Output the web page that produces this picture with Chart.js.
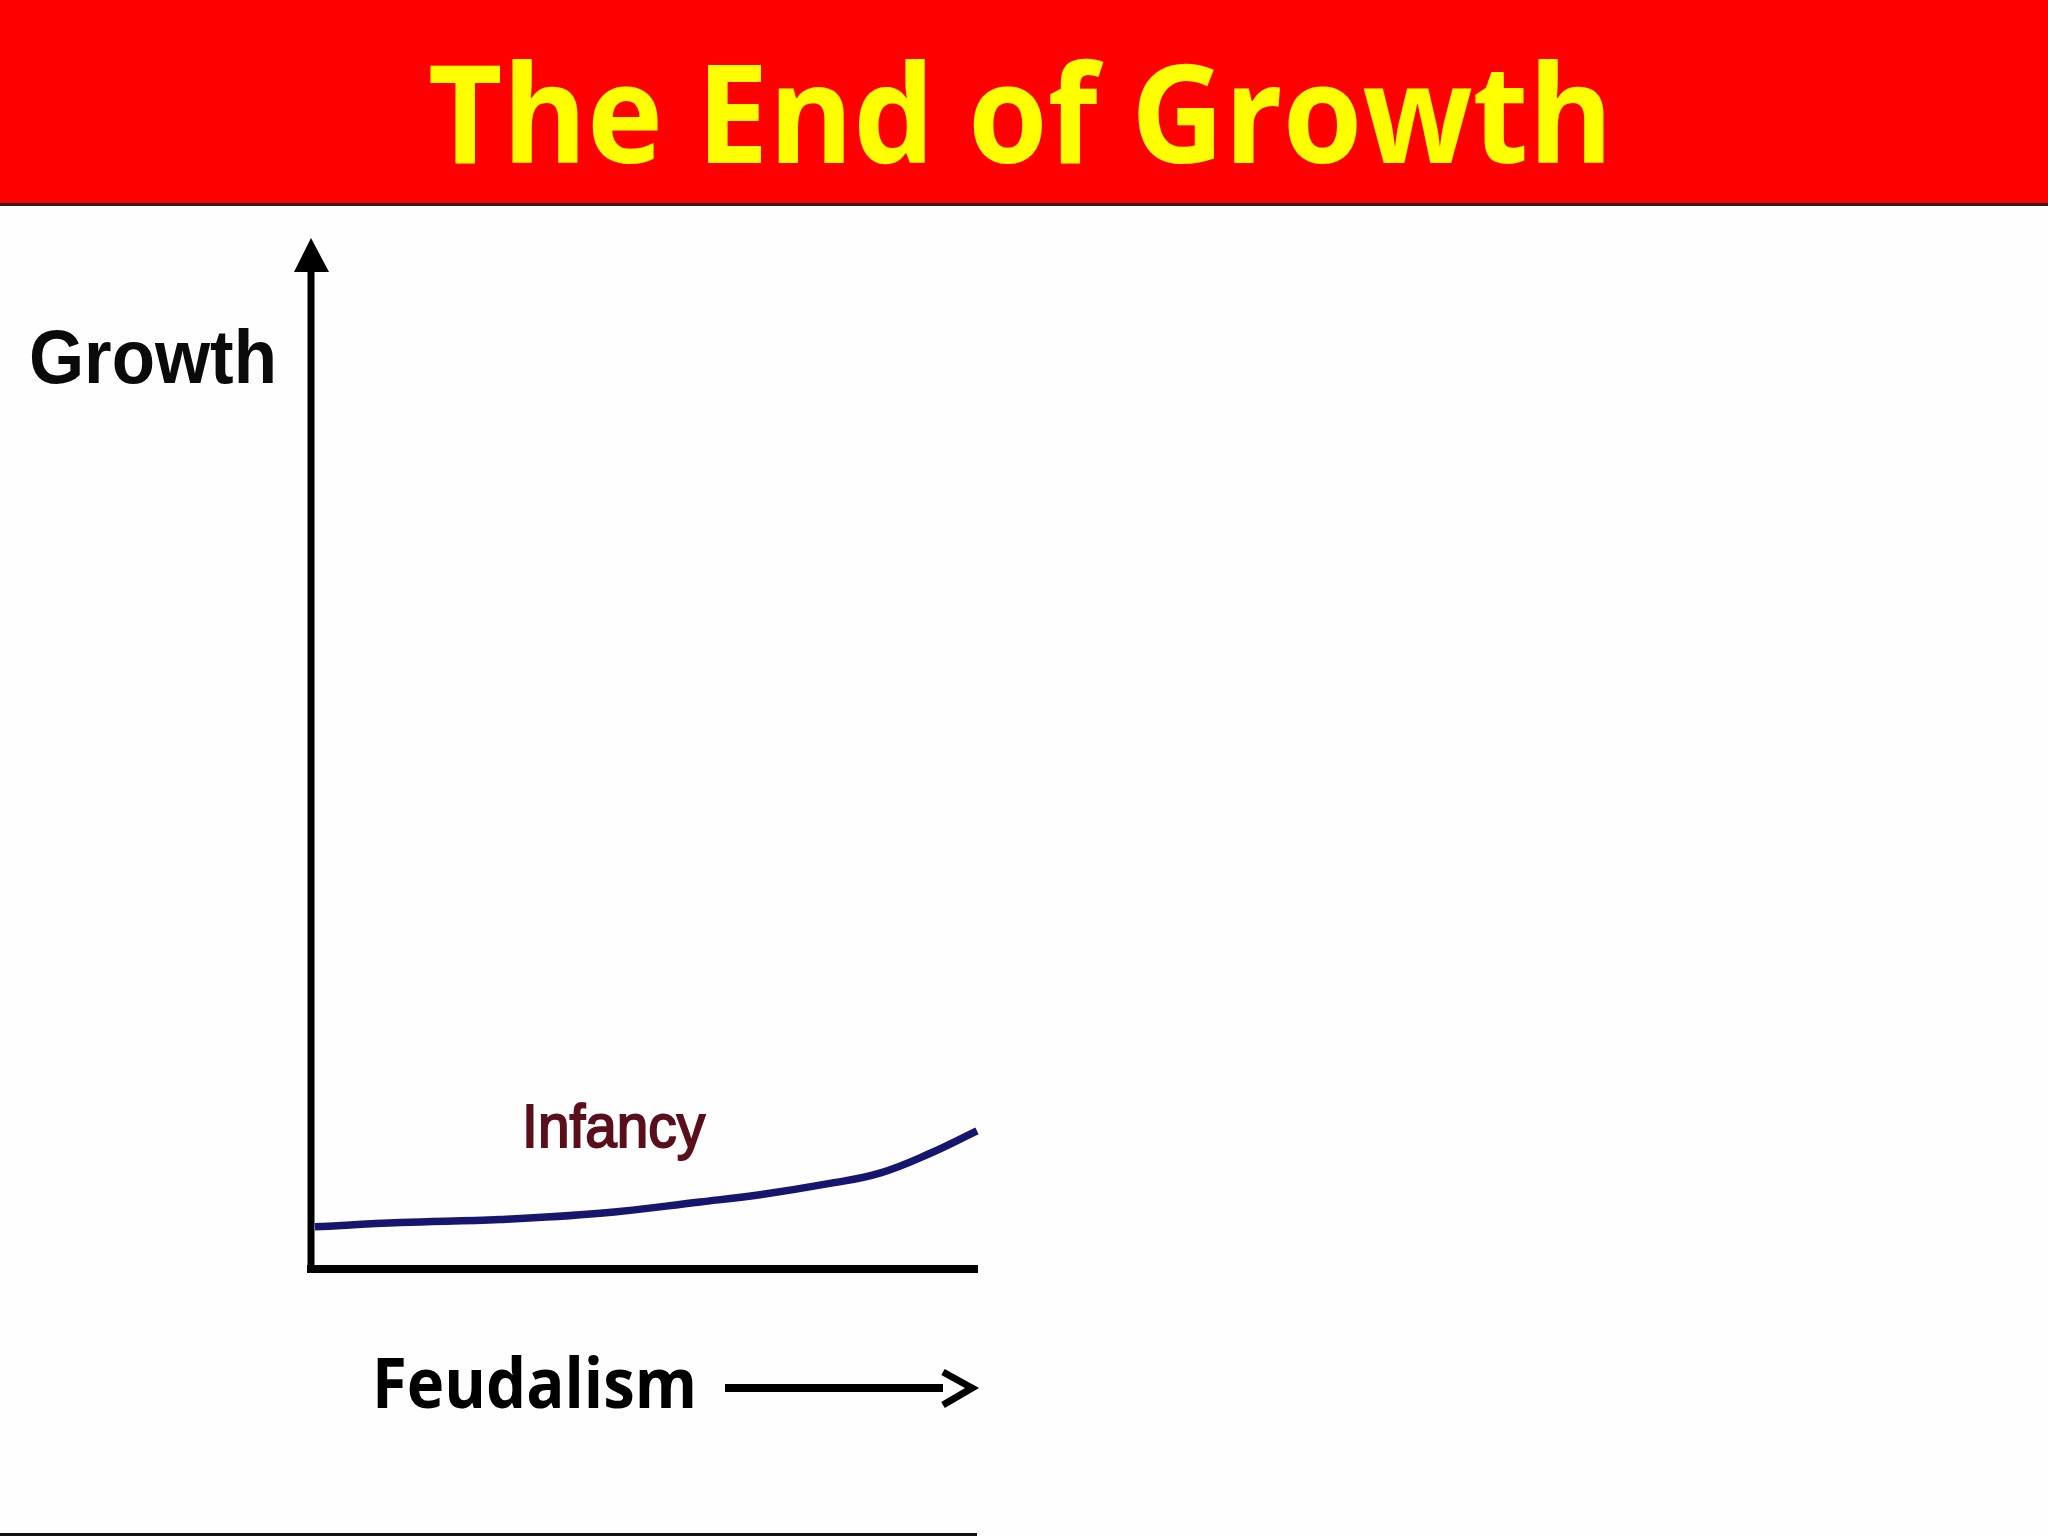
<!DOCTYPE html>
<html>
<head>
<meta charset="utf-8">
<script src="https://cdn.jsdelivr.net/npm/chart.js@4.4.1/dist/chart.umd.min.js"></script>
<style>
  html, body { margin: 0; padding: 0; background: #fefefe; }
  canvas { display: block; }
</style>
</head>
<body>
<canvas id="growthChart" width="2048" height="1536"></canvas>
<script>
// curve (x = time 0..100, y = growth 0..100)
var timeValues = [0.6, 13.4, 28.4, 43.4, 58.4, 67.4, 77.9, 85.4, 92.9, 100];
var growthValues = [4.1, 4.5, 4.8, 5.4, 6.5, 7.2, 8.3, 9.3, 11.2, 13.4];

var titleText = 'The End of Growth';
var yAxisLabel = 'Growth';
var xAxisLabel = 'Feudalism';
var phaseLabel = 'Infancy';

// draw text fitted to a cap height and a width (fonts here are not Calibri)
function fitText(ctx, text, family, weight, capRatio, capH, left, baseline, width, color, thicken) {
  var size = capH / capRatio;
  ctx.save();
  ctx.font = weight + ' ' + size + 'px ' + family;
  ctx.fillStyle = color;
  ctx.strokeStyle = color;
  ctx.textBaseline = 'alphabetic';
  ctx.textAlign = 'left';
  var w = ctx.measureText(text).width;
  ctx.translate(left, baseline);
  ctx.scale(width / w, 1);
  ctx.fillText(text, 0, 0);
  if (thicken) {
    ctx.lineWidth = thicken;
    ctx.strokeText(text, 0, 0);
  }
  ctx.restore();
}

var slidePlugin = {
  id: 'slide',
  beforeDraw: function (chart) {
    var ctx = chart.ctx;
    ctx.save();
    ctx.fillStyle = '#fefefe';
    ctx.fillRect(0, 0, chart.width, chart.height);
    // red header band
    ctx.fillStyle = '#ff0000';
    ctx.fillRect(0, 0, chart.width, 204);
    ctx.fillStyle = '#3a1a1a';
    ctx.fillRect(0, 203, chart.width, 3);
    ctx.restore();
    fitText(ctx, titleText, '"Open Sans"', 'bold', 0.714, 97, 428, 163, 1185, '#ffff00');
  },
  afterDraw: function (chart) {
    var ctx = chart.ctx;
    var a = chart.chartArea;
    var xs = chart.scales.x, ys = chart.scales.y;
    ctx.save();
    ctx.strokeStyle = '#000000';
    ctx.fillStyle = '#000000';
    ctx.lineWidth = 7;
    ctx.lineCap = 'butt';
    // y axis
    ctx.beginPath();
    ctx.moveTo(a.left, a.top + 30);
    ctx.lineTo(a.left, a.bottom + 4);
    ctx.stroke();
    // arrow head
    ctx.beginPath();
    ctx.moveTo(a.left, a.top);
    ctx.lineTo(a.left - 17, a.top + 34);
    ctx.lineTo(a.left + 18, a.top + 34);
    ctx.closePath();
    ctx.fill();
    // x axis
    ctx.lineWidth = 8;
    ctx.beginPath();
    ctx.moveTo(a.left - 4, a.bottom);
    ctx.lineTo(a.right + 1, a.bottom);
    ctx.stroke();
    // feudalism arrow
    ctx.lineWidth = 8;
    ctx.beginPath();
    ctx.moveTo(725, 1388);
    ctx.lineTo(943, 1388);
    ctx.stroke();
    ctx.lineWidth = 7;
    ctx.lineJoin = 'miter';
    ctx.beginPath();
    ctx.moveTo(943, 1372);
    ctx.lineTo(972, 1388);
    ctx.lineTo(943, 1405);
    ctx.stroke();
    // bottom rule
    ctx.fillStyle = '#111111';
    ctx.fillRect(0, 1533, a.right, 3);
    ctx.restore();

    fitText(ctx, yAxisLabel, '"Liberation Sans"', 'bold', 0.716, 55, 29, 383, 248, '#0a0a0a');
    fitText(ctx, xAxisLabel, '"Open Sans"', 'bold', 0.714, 50, 372, 1408, 325, '#000000');
    fitText(ctx, phaseLabel, '"Liberation Sans"', 'normal', 0.716, 44,
      xs.getPixelForValue(31.7), ys.getPixelForValue(11.8), 183, '#5a0f1c', 2);
  }
};

var ctx = document.getElementById('growthChart').getContext('2d');

var myChart = new Chart(ctx, {
  type: 'line',
  data: {
    datasets: [{
      label: yAxisLabel,
      data: timeValues.map(function (t, i) { return { x: t, y: growthValues[i] }; }),
      borderColor: '#16166e',
      borderWidth: 7.5,
      pointRadius: 0,
      fill: false,
      tension: 0.4,
      clip: false
    }]
  },
  options: {
    responsive: false,
    animation: false,
    devicePixelRatio: 1,
    layout: { padding: { left: 311, right: 1071, top: 238, bottom: 267 } },
    plugins: { legend: { display: false }, tooltip: { enabled: false }, title: { display: false } },
    scales: {
      x: { type: 'linear', min: 0, max: 100, display: false },
      y: { type: 'linear', min: 0, max: 100, display: false }
    }
  },
  plugins: [slidePlugin]
});
</script>
</body>
</html>
